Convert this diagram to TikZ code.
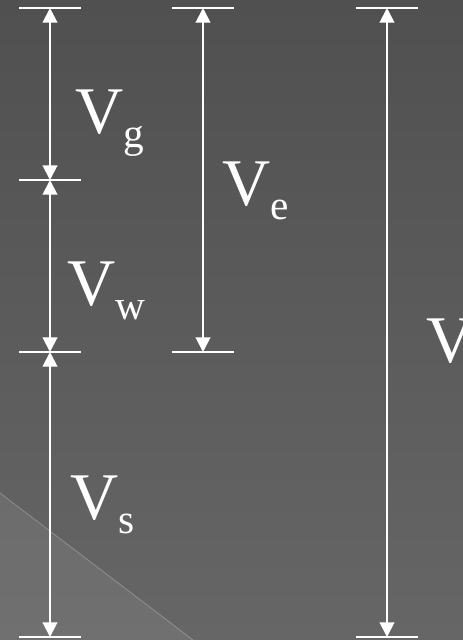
\documentclass[tikz,border=0pt]{standalone}
\usepackage{fontspec}
\setmainfont{Liberation Serif}
\usetikzlibrary{arrows.meta}
\definecolor{bgtop}{HTML}{505050}
\definecolor{bgbot}{HTML}{666666}
\tikzset{
  tick/.style={white, line width=2pt},
  dim/.style={white, line width=1.5pt, {Triangle[length=11pt,width=11pt]}-{Triangle[length=11pt,width=11pt]}},
  lbl/.style={white, anchor=base west, inner sep=0pt, font=\fontsize{50}{50}\selectfont},
}
\newcommand{\sub}[1]{\raisebox{-10.5pt}{\fontsize{31}{31}\selectfont #1}}
\begin{document}
\begin{tikzpicture}[x=0.75pt,y=-0.75pt]
\useasboundingbox (0,0) rectangle (463,640);
\shade[top color=bgtop, bottom color=bgbot] (0,0) rectangle (463,640);
\fill[white, opacity=0.07] (0,493) -- (193,640) -- (0,640) -- cycle;
\draw[white, opacity=0.25, line width=0.6pt] (0,493) -- (193,640);
% column coordinates
\coordinate (a0) at (50,8);
\coordinate (a1) at (50,180);
\coordinate (a2) at (50,352);
\coordinate (a3) at (50,637);
\coordinate (b0) at (203,8);
\coordinate (b1) at (203,352);
\coordinate (c0) at (387,8);
\coordinate (c1) at (387,637);
% ticks
\foreach \p in {a0,a1,a2,a3,b0,b1,c0,c1}
  \draw[tick] ([xshift=-23pt]\p) -- ([xshift=23pt]\p);
% dimension arrows
\draw[dim] (a0) -- (a1);
\draw[dim] (a1) -- (a2);
\draw[dim] (a2) -- (a3);
\draw[dim] (b0) -- (b1);
\draw[dim] (c0) -- (c1);
% labels
\node[lbl] (vg) at (75,133) {V\sub{g}};
\node[lbl] (vw) at (67,305) {V\sub{w}};
\node[lbl] (vs) at (70,519) {V\sub{s}};
\node[lbl] (ve) at (222,205) {V\sub{e}};
\node[lbl] (v) at (426,362) {V};
\end{tikzpicture}
\end{document}
